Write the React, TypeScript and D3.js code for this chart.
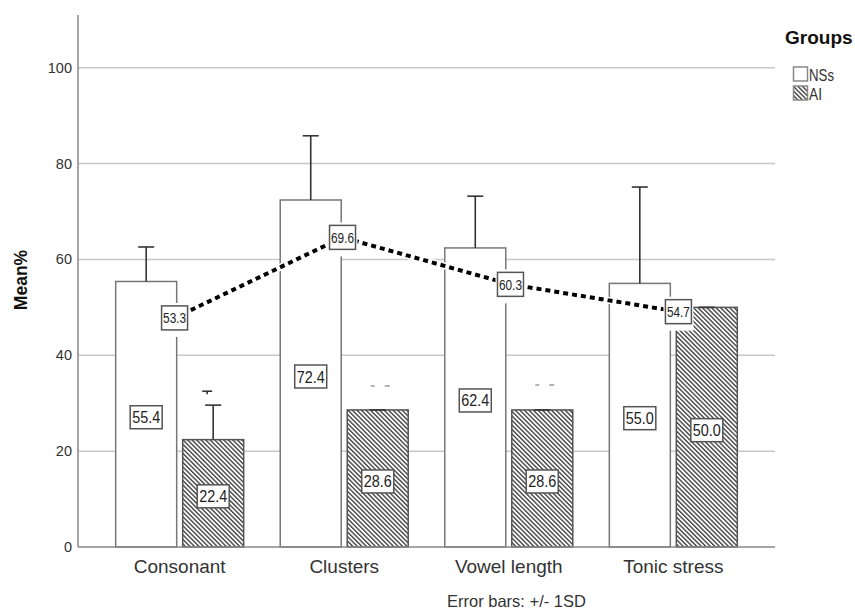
import React from 'react';
import * as d3 from 'd3';

// chart values
const categories = ['Consonant', 'Clusters', 'Vowel length', 'Tonic stress'];
const nsMeans = [55.4, 72.4, 62.4, 55.0];
const nsSD = [7.2, 13.4, 10.8, 20.1];
const aiMeans = [22.4, 28.6, 28.6, 50.0];
const aiSD = [7.2, 0, 0, 0];
// overlay line: printed labels and where the points sit on the y axis
const lineLabels = [53.3, 69.6, 60.3, 54.7];
const linePlotted = [47.8, 64.6, 54.8, 49.1];
const yTicks = [0, 20, 40, 60, 80, 100];
// small stray marks above some AI bars
const strayCats = ['Consonant', 'Clusters', 'Vowel length'];
const strayValues = [32.5, 33.6, 33.8];

const W = 855;
const H = 610;
const left = 78;
const right = 775;
const top = 15;
const bottom = 547;
const barW = 61;
const gap = 6;
const font = '"Liberation Sans", Arial, sans-serif';

const App = () => {
  const y = d3.scaleLinear().domain([0, 111]).range([bottom, top]);
  const x = d3.scalePoint<string>().domain(categories).range([left, right]).padding(0.618);
  const xLine = d3.scalePoint<string>().domain(categories).range([left, right]).padding(0.575);

  const nsX = (c: string) => (x(c) as number) - gap / 2 - barW;
  const aiX = (c: string) => (x(c) as number) + gap / 2;

  const line = d3
    .line<number>()
    .x((_, i) => xLine(categories[i]) as number)
    .y((d) => y(d));

  const errBar = (cx: number, mean: number, sd: number, key: string) => (
    <g key={key} stroke="#333" strokeWidth={1.6}>
      {sd > 0 && <line x1={cx} x2={cx} y1={y(mean)} y2={y(mean + sd)} />}
      <line x1={cx - 8} x2={cx + 8} y1={y(mean + sd)} y2={y(mean + sd)} />
    </g>
  );

  const valueBox = (cx: number, cy: number, label: string, key: string) => (
    <g key={key}>
      <rect x={cx - 16} y={cy - 11.5} width={32} height={23} fill="#fff" stroke="#555" strokeWidth={1.5} />
      <text x={cx} y={cy + 6} textAnchor="middle" fontSize={16.5} fill="#222" textLength={28} lengthAdjust="spacingAndGlyphs">
        {label}
      </text>
    </g>
  );

  return (
    <svg
      width={W}
      height={H}
      style={{ position: 'absolute', left: 0, top: 0, background: '#fff' }}
      fontFamily={font}
    >
      <defs>
        <pattern id="hatch" width={3.2} height={3.2} patternUnits="userSpaceOnUse" patternTransform="rotate(-45)">
          <rect x={0} y={0} width={3.2} height={3.2} fill="#fff" />
          <rect x={0} y={0} width={1.4} height={3.2} fill="#444" />
        </pattern>
      </defs>

      {/* gridlines */}
      {yTicks.slice(1).map((t) => (
        <line key={t} x1={left} x2={right} y1={y(t)} y2={y(t)} stroke="#c8c8c8" strokeWidth={1.5} />
      ))}

      {/* y tick labels */}
      {yTicks.map((t) => (
        <text key={t} x={left - 6} y={y(t) + 5} textAnchor="end" fontSize={14.5} fill="#333">
          {t}
        </text>
      ))}

      {/* bars */}
      {categories.map((c, i) => (
        <g key={c}>
          <rect x={nsX(c)} y={y(nsMeans[i])} width={barW} height={bottom - y(nsMeans[i])} fill="#fff" stroke="#777" strokeWidth={1.5} />
          <rect x={aiX(c)} y={y(aiMeans[i])} width={barW} height={bottom - y(aiMeans[i])} fill="url(#hatch)" stroke="#555" strokeWidth={1.5} />
        </g>
      ))}

      {/* error bars */}
      {categories.map((c, i) => errBar(nsX(c) + barW / 2, nsMeans[i], nsSD[i], 'ns' + c))}
      {categories.map((c, i) => errBar(aiX(c) + barW / 2, aiMeans[i], aiSD[i], 'ai' + c))}

      {/* stray marks */}
      {strayCats.map((c, i) => {
        const cx = aiX(c) + barW / 2;
        const yy = y(strayValues[i]);
        return i === 0 ? (
          <g key={c} stroke="#333" strokeWidth={1.6}>
            <line x1={cx - 11} x2={cx - 1} y1={yy} y2={yy} />
            <line x1={cx - 6} x2={cx - 6} y1={yy} y2={yy + 3} />
          </g>
        ) : (
          <g key={c} stroke="#999" strokeWidth={1.5}>
            <line x1={cx - 7} x2={cx - 3} y1={yy} y2={yy} />
            <line x1={cx + 7} x2={cx + 12} y1={yy} y2={yy} />
          </g>
        );
      })}

      {/* bar value labels */}
      {categories.map((c, i) => valueBox(nsX(c) + barW / 2, y(nsMeans[i] / 2) + 3, nsMeans[i].toFixed(1), 'nl' + c))}
      {categories.map((c, i) => valueBox(aiX(c) + barW / 2, y(aiMeans[i] / 2) + 3, aiMeans[i].toFixed(1), 'al' + c))}

      {/* dotted overlay line */}
      <path d={line(linePlotted) || ''} fill="none" stroke="#fff" strokeWidth={7} />
      <path d={line(linePlotted) || ''} fill="none" stroke="#000" strokeWidth={4} strokeDasharray="5 4" />
      {categories.map((c, i) => {
        const cx = xLine(c) as number;
        const cy = y(linePlotted[i]);
        return (
          <g key={'ll' + c}>
            <rect x={cx - 15} y={cy - 15} width={30} height={22 + 12} fill="#fff" />
            <rect x={cx - 13} y={cy - 12} width={26} height={24} fill="#fff" stroke="#555" strokeWidth={1.5} />
            <text x={cx} y={cy + 5.5} textAnchor="middle" fontSize={15.5} fill="#222" textLength={23} lengthAdjust="spacingAndGlyphs">
              {lineLabels[i].toFixed(1)}
            </text>
          </g>
        );
      })}

      {/* axes */}
      <line x1={left} x2={left} y1={top} y2={bottom} stroke="#888" strokeWidth={1.5} />
      <line x1={left} x2={right} y1={bottom} y2={bottom} stroke="#888" strokeWidth={1.5} />

      {/* x labels */}
      {categories.map((c) => (
        <text key={c} x={x(c) as number} y={573} textAnchor="middle" fontSize={19} fill="#333">
          {c}
        </text>
      ))}

      {/* y title */}
      <text transform={`translate(27,${280}) rotate(-90)`} textAnchor="middle" fontSize={17.5} fontWeight="bold" fill="#111">
        Mean%
      </text>

      <text x={447} y={607} fontSize={16.5} fill="#333">
        Error bars: +/- 1SD
      </text>

      {/* legend */}
      <text x={785} y={44} fontSize={19} fontWeight="bold" fill="#111">
        Groups
      </text>
      <rect x={793.5} y={67} width={14} height={14} fill="#fff" stroke="#888" strokeWidth={1.5} />
      <text x={809} y={81} fontSize={17} fill="#333" textLength={25} lengthAdjust="spacingAndGlyphs">
        NSs
      </text>
      <rect x={793.5} y={86} width={14} height={14} fill="url(#hatch)" stroke="#888" strokeWidth={1.5} />
      <text x={809} y={100} fontSize={17} fill="#333" textLength={13} lengthAdjust="spacingAndGlyphs">
        AI
      </text>
    </svg>
  );
};

export default App;
